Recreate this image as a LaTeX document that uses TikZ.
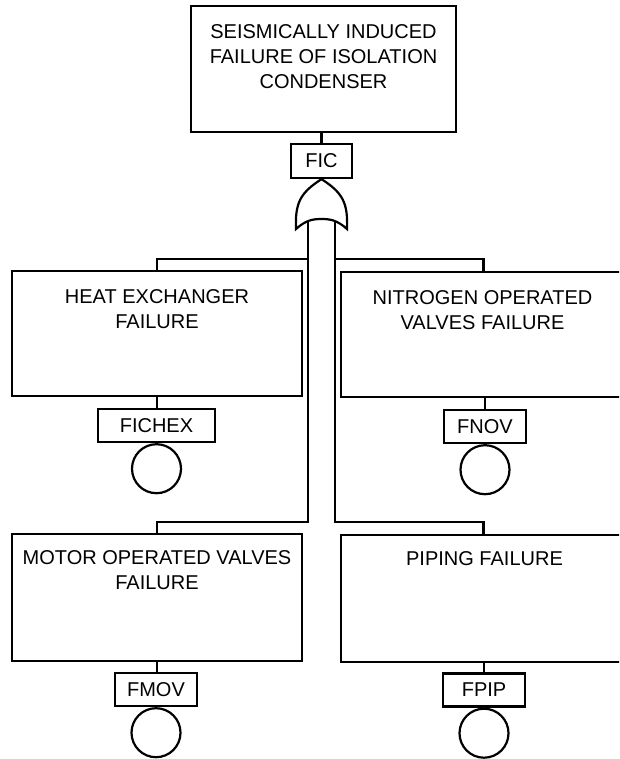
\documentclass[tikz,border=0pt]{standalone}
\usepackage{fontspec}
\setmainfont{Liberation Sans}
\begin{document}
\begin{tikzpicture}[x=1pt,y=-1pt,line width=2.2pt,
  box/.style={draw,rectangle,inner sep=0pt,fill=white},
  btext/.style={anchor=north,align=center,inner sep=0pt,font=\fontsize{20}{25}\selectfont},
  tag/.style={draw,rectangle,inner sep=0pt,fill=white,minimum height=33pt,font=\fontsize{20}{24}\selectfont},
  basic/.style={draw,circle,inner sep=0pt,minimum size=49pt},
  wire/.style={line width=2.2pt}]
\useasboundingbox (0,0) rectangle (619,759);
\clip (0,0) rectangle (619,759);
% top event
\node[box,minimum width=265pt,minimum height=126pt] (top) at (323.5,69) {};
\node[btext] (toptext) at ([yshift=-19pt]top.north) {SEISMICALLY INDUCED\\FAILURE OF ISOLATION\\CONDENSER};
\node[tag,minimum width=61pt,minimum height=34pt] (fic) at (321.5,161) {FIC};
\draw[wire] (fic.north) -- (fic.north |- top.south);
% OR gate
\coordinate (gtop) at (fic.south);
\draw[wire,fill=white] (gtop) .. controls (300,193) and (295,203) .. (296,229)
  .. controls (306,220) and (313,219) .. (321.5,219)
  .. controls (330,219) and (337,220) .. (347,229)
  .. controls (348,203) and (343,193) .. (gtop) -- cycle;
\coordinate (gl) at (308,222);
\coordinate (gr) at (335,222);
\coordinate (ub) at (0,259);
\coordinate (lb) at (0,522);
% boxes
\node[box,minimum width=290pt,minimum height=125pt] (hex) at (157,333.5) {};
\node[btext] (hextext) at ([yshift=-19pt]hex.north) {HEAT EXCHANGER\\FAILURE};
\node[box,minimum width=285pt,minimum height=125pt] (nov) at (483.5,334.5) {};
\node[btext] (novtext) at ([xshift=-1pt,yshift=-19pt]nov.north) {NITROGEN OPERATED\\VALVES FAILURE};
\node[box,minimum width=290pt,minimum height=127pt] (mov) at (157,597.5) {};
\node[btext] (movtext) at ([yshift=-17pt]mov.north) {MOTOR OPERATED VALVES\\FAILURE};
\node[box,minimum width=285pt,minimum height=127pt] (pip) at (483.5,598.5) {};
\node[btext] (piptext) at ([xshift=1pt,yshift=-17pt]pip.north) {PIPING FAILURE};
% tags
\node[tag,minimum width=117pt] (fichex) at (156.5,425.5) {FICHEX};
\node[tag,minimum width=82pt] (fnov) at (485,426.5) {FNOV};
\node[tag,minimum width=82pt] (fmov) at (156,689.5) {FMOV};
\node[tag,minimum width=82pt] (fpip) at (484,690) {FPIP};
% basic events
\node[basic,anchor=north] (c1) at (fichex.south) {};
\node[basic,anchor=north] (c2) at (fnov.south) {};
\node[basic,anchor=north] (c3) at (fmov.south) {};
\node[basic,anchor=north] (c4) at (fpip.south) {};
% connectors
\draw[wire] (gl) -- (gl |- lb) -| (mov.north);
\draw[wire] (gl |- ub) -| (hex.north);
\draw[wire] (gr) -- (gr |- lb) -| (pip.north);
\draw[wire] (gr |- ub) -| (nov.north);
\draw[wire] (hex.south) -- (fichex.north -| hex.south);
\draw[wire] (nov.south -| fnov.north) -- (fnov.north);
\draw[wire] (mov.south) -- (fmov.north -| mov.south);
\draw[wire] (pip.south -| fpip.north) -- (fpip.north);
\end{tikzpicture}
\end{document}
